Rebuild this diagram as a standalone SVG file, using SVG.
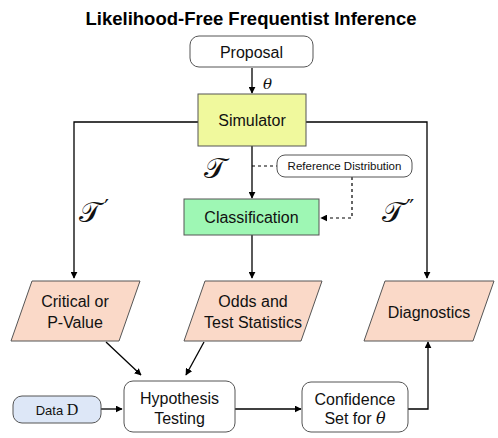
<svg xmlns="http://www.w3.org/2000/svg" width="498" height="438" viewBox="0 0 498 438">
<defs>
<marker id="ah" viewBox="0 0 10 10" refX="9" refY="5" markerWidth="7" markerHeight="7" markerUnits="userSpaceOnUse" orient="auto">
<path d="M0,0 L10,5 L0,10 z" fill="#000"/>
</marker>
<style>
.lbl{font-family:"Liberation Sans",Arial,sans-serif;font-size:16px;fill:#111;text-anchor:middle;}
.sm{font-family:"Liberation Sans",Arial,sans-serif;font-size:11.5px;fill:#111;text-anchor:middle;}
.box{stroke:#555;stroke-width:1;}
.rnd{fill:#fff;stroke:#555;stroke-width:1;}
.para{fill:#fad9c8;stroke:#555;stroke-width:1;}
.ln{fill:none;stroke:#000;stroke-width:1.3;}
.dash{fill:none;stroke:#000;stroke-width:1.2;stroke-dasharray:3,3;}
.math{font-family:"DejaVu Serif","Liberation Serif",serif;font-style:italic;fill:#111;}
.scr{font-family:"DejaVu Serif","Liberation Serif",serif;fill:#111;font-size:29px;}
.pr{font-family:"DejaVu Serif",serif;fill:#111;font-size:22px;}
</style>
</defs>
<text x="251" y="25" font-family="Liberation Sans,Arial,sans-serif" font-size="18.5" font-weight="bold" text-anchor="middle" fill="#000">Likelihood-Free Frequentist Inference</text>
<g id="connectors">
<path class="ln" d="M252,68 V93" marker-end="url(#ah)"/>
<path class="ln" d="M198,122 H74 V278" marker-end="url(#ah)"/>
<path class="ln" d="M306,122 H427 V278" marker-end="url(#ah)"/>
<path class="ln" d="M252,146 V198" marker-end="url(#ah)"/>
<path class="ln" d="M252,235 V278" marker-end="url(#ah)"/>
<path class="dash" d="M252,166 H277"/>
<path class="dash" d="M352,177 V218 H321" marker-end="url(#ah)"/>
<path class="ln" d="M106,342 L141,375" marker-end="url(#ah)"/>
<path class="ln" d="M204,342 L186,375" marker-end="url(#ah)"/>
<path class="ln" d="M101,409 H122" marker-end="url(#ah)"/>
<path class="ln" d="M235,409 H301" marker-end="url(#ah)"/>
<path class="ln" d="M408,409 H428 V342" marker-end="url(#ah)"/>
<text class="math" x="263" y="89" font-size="15">θ</text>
<text class="scr" x="204" y="178">𝒯</text>
<text class="scr" x="79" y="222">𝒯</text><text class="pr" x="104" y="215">′</text>
<text class="scr" x="382" y="222">𝒯</text><text class="pr" x="406" y="215">″</text>
</g>
<g id="proposal"><rect class="rnd" x="190" y="36" width="123" height="31" rx="9"/><text class="lbl" x="251.5" y="58">Proposal</text></g>
<g id="simulator"><rect class="box" x="198" y="94" width="108" height="52" fill="#f0f99d"/><text class="lbl" x="252" y="126">Simulator</text></g>
<g id="reference"><rect class="rnd" x="277" y="155" width="135" height="22" rx="8"/><text class="sm" x="344.5" y="170">Reference Distribution</text></g>
<g id="classification"><rect class="box" x="184" y="199" width="135" height="36" fill="#9ef7b4"/><text class="lbl" x="251.5" y="223">Classification</text></g>
<g id="critical"><polygon class="para" points="32,281 140,281 119,341 11,341"/><text class="lbl" x="75" y="307">Critical or</text><text class="lbl" x="75" y="328">P-Value</text></g>
<g id="odds"><polygon class="para" points="205,281 322,281 301,341 184,341"/><text class="lbl" x="253" y="307">Odds and</text><text class="lbl" x="253" y="328">Test Statistics</text></g>
<g id="diagnostics"><polygon class="para" points="385,281 494,281 473,341 364,341"/><text class="lbl" x="429" y="318">Diagnostics</text></g>
<g id="data"><rect class="box" x="13" y="396" width="88" height="27" rx="9" fill="#dde7f7"/><text x="57" y="415" text-anchor="middle" fill="#111"><tspan font-family="Liberation Sans,Arial,sans-serif" font-size="13">Data </tspan><tspan font-family="Liberation Serif,serif" font-size="16">D</tspan></text></g>
<g id="hypothesis"><rect class="rnd" x="124" y="381" width="111" height="51" rx="9"/><text class="lbl" x="179.5" y="404">Hypothesis</text><text class="lbl" x="179.5" y="424">Testing</text></g>
<g id="confidence"><rect class="rnd" x="302" y="382" width="106" height="50" rx="9"/><text class="lbl" x="355" y="405">Confidence</text><text class="lbl" x="355" y="424">Set for <tspan class="math">θ</tspan></text></g>
</svg>
